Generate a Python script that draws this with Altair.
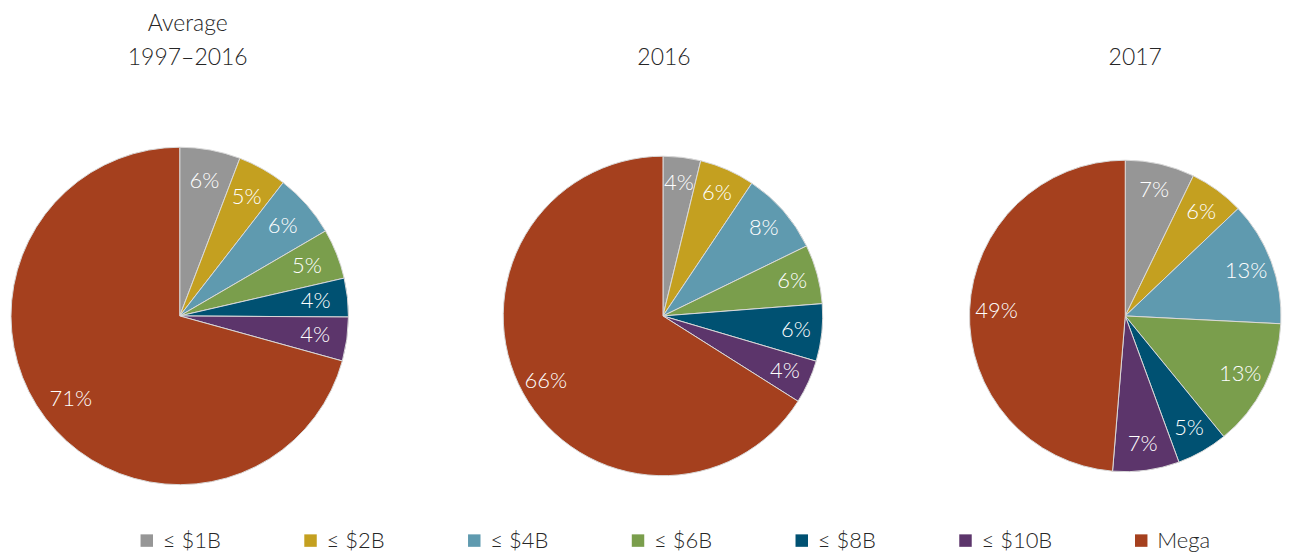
import altair as alt
import pandas as pd

categories = ["≤ $1B", "≤ $2B", "≤ $4B", "≤ $6B", "≤ $8B", "≤ $10B", "Mega"]
colors = ["#969696", "#C4A020", "#5F9AAF", "#7A9E4C", "#005172", "#5C356B", "#A5401E"]
avg_1997_2016 = [5.8, 4.7, 6.1, 4.8, 3.7, 4.2, 70.7]
y2016 = [3.8, 5.6, 8.4, 6.0, 5.8, 4.4, 66.1]
y2017 = [7.2, 5.7, 12.9, 13.3, 5.3, 6.9, 48.7]
titles = [["Average", "1997–2016"], "2016", "2017"]

FONT = "Lato"
TEXT_COLOR = "#262626"

legend = alt.Legend(
    title=None, orient="none", legendX=128, legendY=410, direction="horizontal",
    columns=7, columnPadding=78, symbolType="square", symbolSize=156,
    symbolStrokeWidth=0, labelFontSize=22, labelFont=FONT, labelFontWeight=300,
    labelColor=TEXT_COLOR, labelOffset=5, padding=0,
)


def pie(values, title, radius, label_radius, width, dx):
    df = pd.DataFrame({"cat": categories, "idx": list(range(len(categories))), "value": values})
    base = alt.Chart(df).transform_calculate(
        label="format(datum.value / 100, '.0%')"
    ).encode(
        theta=alt.Theta("value:Q", stack=True),
        order=alt.Order("idx:Q"),
    )
    arcs = base.mark_arc(outerRadius=radius, stroke="#d9d9d9", strokeWidth=1).encode(
        color=alt.Color("cat:N", scale=alt.Scale(domain=categories, range=colors), legend=legend)
    )
    labels = base.mark_text(radius=label_radius, fontSize=22, font=FONT, fontWeight=300,
                            color="white").encode(text="label:N")
    return alt.layer(arcs, labels).properties(
        width=width, height=392,
        title=alt.TitleParams(title, offset=50, dx=dx, fontSize=23, font=FONT,
                              fontWeight=300, color=TEXT_COLOR, lineHeight=34),
    )


p1 = pie(avg_1997_2016, titles[0], 169, 137, 344, 8)
p2 = pie(y2016, titles[1], 160, 134, 344, 1)
p3 = pie(y2017, titles[2], 156, 129, 302, 10)

chart = alt.hconcat(p1, p2, p3, spacing=140, bounds="flush").properties(
    padding={"left": 0, "top": 5, "right": 0, "bottom": 0}
).configure_view(stroke=None)

chart.save("out.html", embed_options={"renderer": "svg", "actions": False})
